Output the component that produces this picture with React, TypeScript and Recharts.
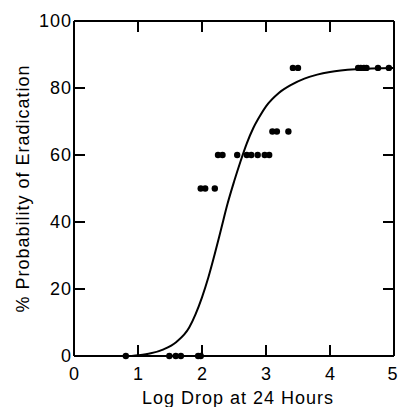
import { ComposedChart, Line, Scatter, XAxis, YAxis, ReferenceLine } from 'recharts';

// fitted curve
const curveX = [0.9, 1.0, 1.2, 1.4, 1.6, 1.8, 1.9, 2.0, 2.1, 2.2, 2.3, 2.4, 2.5, 2.6, 2.7, 2.8, 2.9, 3.0, 3.2, 3.4, 3.6, 3.8, 4.0, 4.4, 5.0];
const curveY = [0, 0.2, 0.8, 2.0, 4.2, 8.5, 12.5, 17.5, 23.5, 30.5, 38, 45.5, 52, 58, 63.5, 68, 71.5, 74.5, 78.5, 81, 82.8, 84, 84.8, 85.6, 86];

// observed points
const dotX = [0.81, 1.49, 1.59, 1.67, 1.94, 1.98, 1.98, 2.05, 2.2, 2.25, 2.32, 2.55, 2.7, 2.77, 2.87, 2.98, 3.05, 3.1, 3.17, 3.35, 3.42, 3.5, 4.44, 4.48, 4.53, 4.57, 4.75, 4.92];
const dotY = [0, 0, 0, 0, 0, 0, 50, 50, 50, 60, 60, 60, 60, 60, 60, 60, 60, 67, 67, 67, 86, 86, 86, 86, 86, 86, 86, 86];

const xTicks = [0, 1, 2, 3, 4, 5];
const yTicks = [0, 20, 40, 60, 80, 100];

const curve = curveX.map((x, i) => ({ x, y: curveY[i] }));
const dots = dotX.map((x, i) => ({ x, y: dotY[i] }));

const W = 398;
const H = 407;
const MARGIN = { top: 21, right: 4, bottom: 0, left: 0 };
const X_AXIS_H = 51;
const Y_AXIS_W = 74;
const PLOT_TOP = MARGIN.top;
const PLOT_RIGHT = W - MARGIN.right;

const FONT = 'Liberation Sans, Arial, Helvetica, sans-serif';
const TICK_LEN = 11;
const X_GAP = 11;
const Y_GAP = 2;
const textProps = { fill: '#000', fontSize: 18, fontFamily: FONT, letterSpacing: 1 };

const Dot = (props: any) => <circle cx={props.cx} cy={props.cy} r={3.2} fill="#000" />;

// inward ticks on both sides of the frame, label outside
const BottomTick = (props: any) => {
  const axisY = props.y - X_GAP;
  const last = props.payload.value === xTicks[xTicks.length - 1];
  return (
    <g>
      <line x1={props.x} x2={props.x} y1={axisY} y2={axisY - TICK_LEN} stroke="#000" strokeWidth={2} />
      <line x1={props.x} x2={props.x} y1={PLOT_TOP} y2={PLOT_TOP + TICK_LEN} stroke="#000" strokeWidth={2} />
      <text x={props.x - (last ? 1.5 : 0)} y={props.y} dy="0.71em" textAnchor="middle" {...textProps} letterSpacing={0}>
        {props.payload.value}
      </text>
    </g>
  );
};
const LeftTick = (props: any) => {
  const axisX = props.x + Y_GAP;
  return (
    <g>
      <line x1={axisX} x2={axisX + TICK_LEN} y1={props.y} y2={props.y} stroke="#000" strokeWidth={2} />
      <line x1={PLOT_RIGHT} x2={PLOT_RIGHT - TICK_LEN} y1={props.y} y2={props.y} stroke="#000" strokeWidth={2} />
      <text x={props.x} y={props.y} dy="0.355em" textAnchor="end" {...textProps}>{props.payload.value}</text>
    </g>
  );
};

export default function App() {
  return (
    <div style={{ position: 'absolute', left: 0, top: 0, background: '#fff' }}>
      <ComposedChart width={W} height={H} margin={MARGIN}>
        <XAxis
          xAxisId="bottom" dataKey="x" type="number" domain={[0, 5]} ticks={xTicks}
          height={X_AXIS_H} tickSize={0} tickMargin={X_GAP} tick={BottomTick} tickLine={false}
          axisLine={{ stroke: '#000', strokeWidth: 2 }}
          label={{
            content: ({ viewBox }: any) => (
              <text x={viewBox.x + viewBox.width / 2 + 4} y={viewBox.y + 48} textAnchor="middle" {...textProps}>
                Log Drop at 24 Hours
              </text>
            ),
          }}
        />
        <YAxis
          yAxisId="left" type="number" domain={[0, 100]} ticks={yTicks}
          width={Y_AXIS_W} tickSize={0} tickMargin={Y_GAP} tick={LeftTick} tickLine={false}
          axisLine={{ stroke: '#000', strokeWidth: 2 }}
          label={{
            content: ({ viewBox }: any) => {
              const cy = viewBox.y + viewBox.height / 2;
              return (
                <text x={29} y={cy} transform={`rotate(-90, 29, ${cy})`} textAnchor="middle" {...textProps}>
                  % Probability of Eradication
                </text>
              );
            },
          }}
        />
        <ReferenceLine xAxisId="bottom" yAxisId="left" y={100} stroke="#000" strokeWidth={2} />
        <ReferenceLine xAxisId="bottom" yAxisId="left" x={5} stroke="#000" strokeWidth={2} />
        <Line
          data={curve} dataKey="y" xAxisId="bottom" yAxisId="left" type="monotone"
          stroke="#000" strokeWidth={2} dot={false} activeDot={false} isAnimationActive={false}
        />
        <Scatter
          data={dots} dataKey="y" xAxisId="bottom" yAxisId="left"
          fill="#000" shape={Dot} isAnimationActive={false}
        />
      </ComposedChart>
    </div>
  );
}
